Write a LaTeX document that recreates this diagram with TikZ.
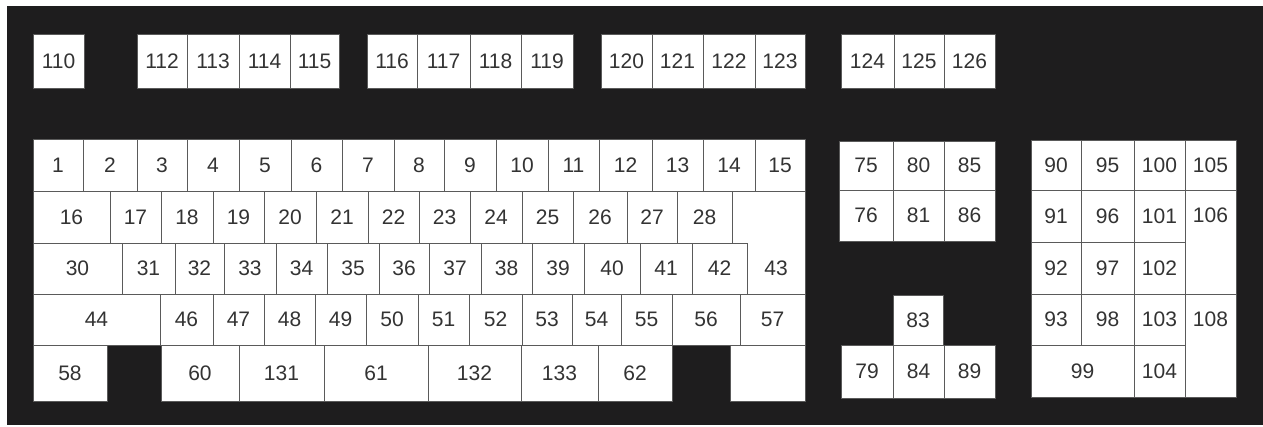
\documentclass[tikz,border=0pt]{standalone}
\usepackage{fontspec}
\setmainfont{Liberation Sans}
\usetikzlibrary{positioning}
\definecolor{boardbg}{HTML}{1E1D1E}
\definecolor{capedge}{HTML}{5A5A5A}
\definecolor{captext}{HTML}{333333}

\begin{document}
\begin{tikzpicture}[x=1pt,y=-1pt,
  keycap/.style={draw=capedge,fill=white,line width=0.9pt,inner sep=0pt,
                 text=captext,font=\fontsize{21}{21}\selectfont},
  keylab/.style={text=captext,font=\fontsize{21}{21}\selectfont,inner sep=0pt}
]
  \useasboundingbox (0,0) rectangle (1263,426);
  \fill[boardbg] (7,6) rectangle (1263,425);
  % function key row
  \foreach \n/\xa/\xb in {110/33/84,112/137/187,113/187/239,114/239/290,115/290/339,
      116/367/417,117/417/470,118/470/521,119/521/573,
      120/601/652,121/652/703,122/703/755,123/755/805,
      124/841/894,125/894/944,126/944/995}
    \node[keycap,minimum width=\xb-\xa,minimum height=54] (k\n) at ({(\xa+\xb)/2},61) {\n};
  % main block
  \foreach \n/\xa/\xb in {1/33/83,2/83/137,3/137/187,4/187/239,5/239/291,6/291/342,
      7/342/394,8/394/444,9/444/496,10/496/548,11/548/599,12/599/652,13/652/703,
      14/703/755,15/755/805}
    \node[keycap,minimum width=\xb-\xa,minimum height=52] (k\n) at ({(\xa+\xb)/2},165) {\n};
  \foreach \n/\xa/\xb in {16/33/110,17/110/161,18/161/213,19/213/264,20/264/316,
      21/316/368,22/368/419,23/419/470,24/470/522,25/522/573,26/573/627,27/627/677,
      28/677/732}
    \node[keycap,minimum width=\xb-\xa,minimum height=52] (k\n) at ({(\xa+\xb)/2},217) {\n};
  \foreach \n/\xa/\xb in {30/33/122,31/122/175,32/175/224,33/224/276,34/276/327,
      35/327/379,36/379/429,37/429/481,38/481/532,39/532/584,40/584/640,41/640/692,
      42/692/747}
    \node[keycap,minimum width=\xb-\xa,minimum height=51] (k\n) at ({(\xa+\xb)/2},268.5) {\n};
  \draw[keycap] (732,191) -- (805,191) -- (805,294) -- (747,294) -- (747,243) -- (732,243) -- cycle;
  \node[keylab] (k43) at (776,268.5) {43};
  \foreach \n/\xa/\xb in {44/33/160,46/160/213,47/213/264,48/264/315,49/315/366,
      50/366/418,51/418/469,52/469/522,53/522/572,54/572/621,55/621/672,56/672/740,
      57/740/805}
    \node[keycap,minimum width=\xb-\xa,minimum height=51] (k\n) at ({(\xa+\xb)/2},319.5) {\n};
  \foreach \n/\xa/\xb in {58/33/107,60/161/239,131/239/324,61/324/428,132/428/521,
      133/521/598,62/598/672}
    \node[keycap,minimum width=\xb-\xa,minimum height=56] (k\n) at ({(\xa+\xb)/2},373) {\n};
  \node[keycap,minimum width=75,minimum height=56] (kblank) at (767.5,373) {};
  % cursor block
  \foreach \n/\xa/\xb in {75/839/893,80/893/944,85/944/995}
    \node[keycap,minimum width=\xb-\xa,minimum height=49] (k\n) at ({(\xa+\xb)/2},165.5) {\n};
  \foreach \n/\xa/\xb in {76/839/893,81/893/944,86/944/995}
    \node[keycap,minimum width=\xb-\xa,minimum height=51] (k\n) at ({(\xa+\xb)/2},215.5) {\n};
  \node[keycap,minimum width=50,minimum height=50] (k83) at (918,320) {83};
  \foreach \n/\xa/\xb in {79/841/893,84/893/944,89/944/995}
    \node[keycap,minimum width=\xb-\xa,minimum height=53] (k\n) at ({(\xa+\xb)/2},371.5) {\n};
  % numeric pad
  \foreach \n/\xa/\xb in {90/1031/1081,95/1081/1134,100/1134/1185,105/1185/1236}
    \node[keycap,minimum width=\xb-\xa,minimum height=50] (k\n) at ({(\xa+\xb)/2},165) {\n};
  \foreach \n/\xa/\xb in {91/1031/1081,96/1081/1134,101/1134/1185}
    \node[keycap,minimum width=\xb-\xa,minimum height=52] (k\n) at ({(\xa+\xb)/2},216) {\n};
  \foreach \n/\xa/\xb in {92/1031/1081,97/1081/1134,102/1134/1185}
    \node[keycap,minimum width=\xb-\xa,minimum height=52] (k\n) at ({(\xa+\xb)/2},268) {\n};
  \foreach \n/\xa/\xb in {93/1031/1081,98/1081/1134,103/1134/1185}
    \node[keycap,minimum width=\xb-\xa,minimum height=51] (k\n) at ({(\xa+\xb)/2},319.5) {\n};
  \node[keycap,minimum width=103,minimum height=52] (k99) at (1082.5,371) {99};
  \node[keycap,minimum width=51,minimum height=52] (k104) at (1159.5,371) {104};
  \node[keycap,minimum width=51,minimum height=104] (k106) at (1210.5,242) {};
  \node[keylab,minimum height=52,below=0pt of k106.north] (t106) {106};
  \node[keycap,minimum width=51,minimum height=103] (k108) at (1210.5,345.5) {};
  \node[keylab,minimum height=51,below=0pt of k108.north] (t108) {108};
\end{tikzpicture}
\end{document}
